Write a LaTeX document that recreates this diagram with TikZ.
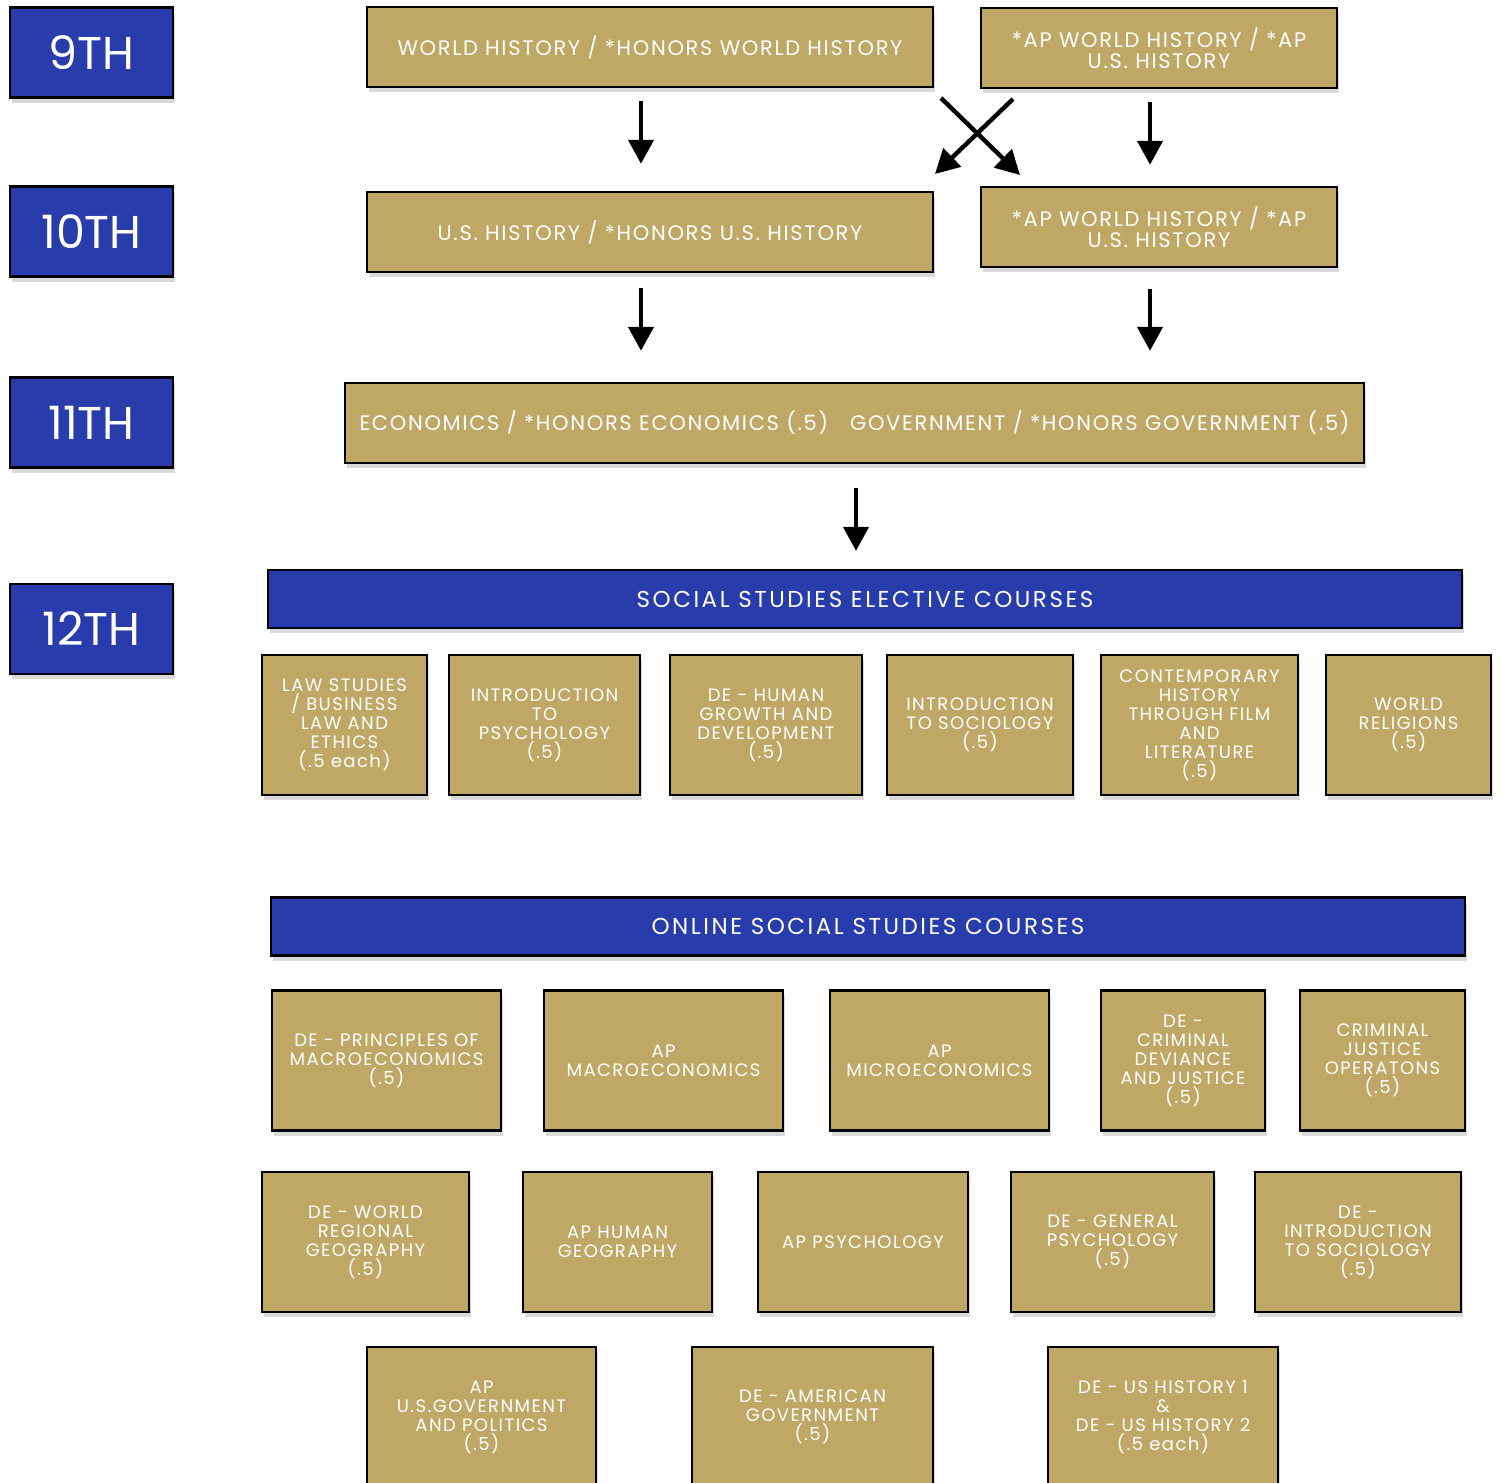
\documentclass[tikz,border=0pt]{standalone}
\usepackage{fontspec}
\setmainfont{Poppins}
\newfontfamily\spaced{Poppins}[LetterSpace=8]
\newfontfamily\wide{Poppins}[LetterSpace=11]
\definecolor{myblue}{RGB}{41,60,171}
\definecolor{mygold}{RGB}{191,168,101}
\usetikzlibrary{arrows.meta,shadows}

\begin{document}
\begin{tikzpicture}[x=0.5pt,y=-0.5pt]
	\tikzstyle{box}=[draw=black,line width=1.2pt,text=white,align=center,inner sep=1pt,drop shadow={shadow xshift=1pt,shadow yshift=-2.5pt,opacity=0.3}];
	\tikzstyle{grade}=[box,fill=myblue,minimum width=81.5pt,minimum height=45pt,font=\fontsize{23}{23}\selectfont];
	\tikzstyle{core}=[box,fill=mygold,minimum height=40pt,font=\spaced\fontsize{10.5}{10.5}\selectfont];
	\tikzstyle{head}=[box,fill=myblue,minimum width=597pt,minimum height=29pt,font=\wide\fontsize{11.5}{11.5}\selectfont];
	\tikzstyle{course}=[box,fill=mygold,minimum height=70pt,font=\spaced\fontsize{9}{9.5}\selectfont];
	\tikzstyle{arr}=[line width=2.2pt,-{Triangle[length=12pt,width=12.5pt]}];
	\clip (0,0) rectangle (1501,1483);
	\node[grade] (g9)  at (91.5,52.5)  {9TH};
	\node[grade] (g10) at (91.5,231.5) {10TH};
	\node[grade] (g11) at (91.5,422.5) {11TH};
	\node[grade] (g12) at (91.5,629)   {12TH};
	\node[core,minimum width=283pt] (wh)  at (650,47)  {WORLD HISTORY / *HONORS WORLD HISTORY};
	\node[core,minimum width=178pt] (ap9) at (1159,48) {*AP WORLD HISTORY / *AP\\U.S. HISTORY};
	\node[core,minimum width=283pt] (us)  at (650,232) {U.S. HISTORY / *HONORS U.S. HISTORY};
	\node[core,minimum width=178pt] (ap10) at (1159,227) {*AP WORLD HISTORY / *AP\\U.S. HISTORY};
	\node[core,minimum width=509.5pt] (econ) at (854.5,423) {ECONOMICS / *HONORS ECONOMICS (.5)\hspace{11pt}GOVERNMENT / *HONORS GOVERNMENT (.5)};
	\coordinate (c1) at (1013,99);
	\coordinate (c2) at (935,174);
	\coordinate (c3) at (941,98);
	\coordinate (c4) at (1020,175);
	\draw[arr,shorten <=6.5pt,shorten >=13.5pt] ([xshift=-4.5pt]wh.south) -- ([xshift=-4.5pt]us.north);
	\draw[arr,shorten <=6.5pt,shorten >=10.5pt] ([xshift=-4.5pt]ap9.south) -- ([xshift=-4.5pt]ap10.north);
	\draw[arr] (c1) -- (c2);
	\draw[arr] (c3) -- (c4);
	\draw[arr,shorten <=7.5pt,shorten >=15.5pt] ([xshift=-4.5pt]us.south) -- ([xshift=-4.5pt]us.south |- econ.north);
	\draw[arr,shorten <=10.5pt,shorten >=15.5pt] ([xshift=-4.5pt]ap10.south) -- ([xshift=-4.5pt]ap10.south |- econ.north);
	\node[head] (elec) at (865,599) {SOCIAL STUDIES ELECTIVE COURSES};
	\draw[arr,shorten <=12pt,shorten >=9pt] ([xshift=0.75pt]econ.south) -- ([xshift=0.75pt]econ.south |- elec.north);
	\node[course,minimum width=82.5pt] (e1) at (344.5,725)  {LAW STUDIES\\/ BUSINESS\\LAW AND\\ETHICS\\(.5 each)};
	\node[course,minimum width=95.5pt] (e2) at (544.5,725)  {INTRODUCTION\\TO\\PSYCHOLOGY\\(.5)};
	\node[course,minimum width=96pt]   (e3) at (766,725)    {DE - HUMAN\\GROWTH AND\\DEVELOPMENT\\(.5)};
	\node[course,minimum width=93pt]   (e4) at (980,725)    {INTRODUCTION\\TO SOCIOLOGY\\(.5)};
	\node[course,minimum width=98.5pt] (e5) at (1199.5,725) {CONTEMPORARY\\HISTORY\\THROUGH FILM\\AND\\LITERATURE\\(.5)};
	\node[course,minimum width=82.5pt] (e6) at (1408.5,725) {WORLD\\RELIGIONS\\(.5)};
	\node[head] (onl) at (868,926.5) {ONLINE SOCIAL STUDIES COURSES};
	\node[course,minimum width=114.5pt] (o1) at (386.5,1060.5) {DE - PRINCIPLES OF\\MACROECONOMICS\\(.5)};
	\node[course,minimum width=119.5pt] (o2) at (663.5,1060.5) {AP\\MACROECONOMICS};
	\node[course,minimum width=109.5pt] (o3) at (939.5,1060.5) {AP\\MICROECONOMICS};
	\node[course,minimum width=82pt]    (o4) at (1183,1060.5)  {DE -\\CRIMINAL\\DEVIANCE\\AND JUSTICE\\(.5)};
	\node[course,minimum width=82.5pt]  (o5) at (1382.5,1060.5) {CRIMINAL\\JUSTICE\\OPERATONS\\(.5)};
	\node[course,minimum width=103.5pt] (o6) at (365.5,1242)  {DE - WORLD\\REGIONAL\\GEOGRAPHY\\(.5)};
	\node[course,minimum width=94.5pt]  (o7) at (617.5,1242)  {AP HUMAN\\GEOGRAPHY};
	\node[course,minimum width=105pt]   (o8) at (863,1242)    {AP PSYCHOLOGY};
	\node[course,minimum width=101.5pt] (o9) at (1112.5,1242) {DE - GENERAL\\PSYCHOLOGY\\(.5)};
	\node[course,minimum width=103pt]   (o10) at (1358,1242)  {DE -\\INTRODUCTION\\TO SOCIOLOGY\\(.5)};
	\node[course,minimum width=114.5pt] (o11) at (481.5,1417) {AP\\U.S.GOVERNMENT\\AND POLITICS\\(.5)};
	\node[course,minimum width=120.5pt] (o12) at (812.5,1417) {DE - AMERICAN\\GOVERNMENT\\(.5)};
	\node[course,minimum width=115pt]   (o13) at (1163,1417)  {DE - US HISTORY 1\\\&\\DE - US HISTORY 2\\(.5 each)};
\end{tikzpicture}
\end{document}
